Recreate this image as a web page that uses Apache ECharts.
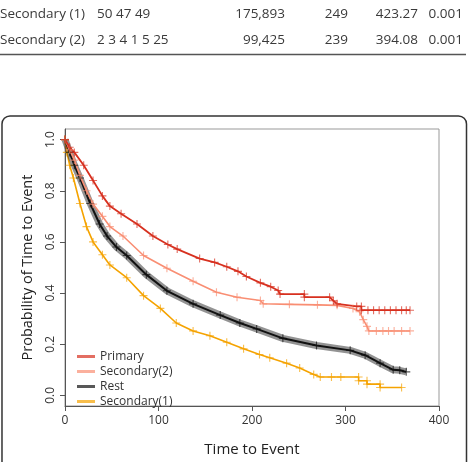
<!DOCTYPE html>
<html>
<head>
<meta charset="utf-8">
<script src="https://cdn.jsdelivr.net/npm/echarts@6/dist/echarts.min.js"></script>
<style>
  html, body { margin: 0; padding: 0; background: #fff; }
  #chart { width: 469px; height: 462px; }
</style>
</head>
<body>
<div id="chart"></div>
<script>
// table rows above the figure
let tableRows = [
  ['Secondary (1)', '50 47 49', '175,893', '249', '423.27', '0.001'],
  ['Secondary (2)', '2 3 4 1 5 25', '99,425', '239', '394.08', '0.001']
];

let seriesNames = ['Primary', 'Secondary(2)', 'Rest', 'Secondary(1)'];

let primaryTime = [0, 5, 10, 20, 30, 40, 48, 60, 77, 94, 110, 120, 144, 160, 173, 185, 194, 209, 220, 228, 230, 256, 256, 283, 287, 291, 312, 317, 317, 324, 330, 336, 342, 348, 354, 360, 365, 369];
let primarySurv = [1, 0.97, 0.95, 0.9, 0.84, 0.78, 0.74, 0.71, 0.67, 0.623, 0.59, 0.572, 0.535, 0.52, 0.503, 0.485, 0.465, 0.44, 0.425, 0.41, 0.396, 0.396, 0.384, 0.384, 0.37, 0.358, 0.348, 0.348, 0.333, 0.333, 0.333, 0.333, 0.333, 0.333, 0.333, 0.333, 0.333, 0.333];

let secondary2Time = [0, 5, 10, 16, 23, 30, 40, 48, 62, 84, 109, 137, 162, 184, 209, 212, 240, 270, 291, 308, 315, 319, 323, 325, 333, 340, 346, 352, 360, 369];
let secondary2Surv = [1, 0.96, 0.92, 0.86, 0.8, 0.748, 0.7, 0.66, 0.623, 0.547, 0.497, 0.446, 0.403, 0.384, 0.371, 0.358, 0.356, 0.354, 0.352, 0.34, 0.327, 0.296, 0.27, 0.252, 0.252, 0.252, 0.252, 0.252, 0.252, 0.252];

let restTime = [0, 5, 10, 16, 27, 37, 45, 55, 66, 87, 109, 137, 166, 187, 205, 233, 269, 305, 321, 337, 351, 358, 365];
let restSurv = [1, 0.95, 0.9, 0.85, 0.75, 0.67, 0.623, 0.58, 0.547, 0.472, 0.409, 0.358, 0.314, 0.283, 0.26, 0.223, 0.195, 0.176, 0.157, 0.126, 0.1, 0.098, 0.092];

let secondary1Time = [0, 2, 5, 9, 16, 23, 30, 40, 48, 66, 84, 102, 119, 137, 155, 173, 191, 208, 219, 237, 251, 266, 273, 285, 295, 314, 314, 323, 323, 337, 337, 360];
let secondary1Surv = [1, 0.95, 0.9, 0.85, 0.75, 0.66, 0.6, 0.55, 0.51, 0.46, 0.39, 0.34, 0.283, 0.252, 0.233, 0.208, 0.182, 0.16, 0.147, 0.126, 0.107, 0.082, 0.072, 0.072, 0.072, 0.072, 0.057, 0.057, 0.044, 0.044, 0.031, 0.031];

let xTicks = [0, 100, 200, 300, 400];
let yTicks = [0, 0.2, 0.4, 0.6, 0.8, 1.0];

let colors = {
  'Primary': '#d7301f',
  'Secondary(2)': '#f98e73',
  'Rest': '#111111',
  'Secondary(1)': '#f5a300'
};

let font = '"Open Sans", "Noto Sans", sans-serif';
let plusSymbol = 'path://M4.3,0H5.7V4.3H10V5.7H5.7V10H4.3V5.7H0V4.3H4.3Z';

function pairs(times, surv) {
  return times.map((t, i) => [t, surv[i]]);
}

function kmSeries(name, times, surv, width) {
  return {
    name: name,
    type: 'line',
    data: pairs(times, surv),
    showSymbol: true,
    symbol: plusSymbol,
    symbolSize: 8,
    itemStyle: { color: colors[name], opacity: 0.7 },
    lineStyle: { color: colors[name], width: width },
    silent: true
  };
}

// table text as graphic elements
let graphics = [];
let colX = [0, 97, 285, 348, 418, 463];
let colAlign = ['left', 'left', 'right', 'right', 'right', 'right'];
tableRows.forEach((row, r) => {
  row.forEach((cell, c) => {
    graphics.push({
      type: 'text',
      x: colX[c],
      y: 14 + r * 26,
      style: {
        text: cell,
        font: '13.5px ' + font,
        fill: '#3a3a3a',
        align: colAlign[c],
        verticalAlign: 'middle'
      }
    });
  });
});
graphics.push({
  type: 'line',
  shape: { x1: 0, y1: 54.5, x2: 466, y2: 54.5 },
  style: { stroke: '#555', lineWidth: 1.5 }
});
graphics.push({
  type: 'rect',
  shape: { x: 2, y: 116, width: 464.5, height: 380, r: 8 },
  style: { fill: 'none', stroke: '#333', lineWidth: 1.5 },
  z: -1
});

let chart = echarts.init(document.getElementById('chart'), null, { renderer: 'canvas' });

let option = {
  animation: false,
  textStyle: { fontFamily: font },
  graphic: graphics,
  grid: {
    left: 65,
    right: 30,
    top: 129,
    bottom: 46,
    show: true,
    borderColor: '#999',
    borderWidth: 1
  },
  legend: {
    data: seriesNames,
    orient: 'vertical',
    left: 72,
    top: 344,
    icon: 'rect',
    itemWidth: 18,
    itemHeight: 3,
    itemGap: 0,
    textStyle: { fontSize: 12, color: '#333', lineHeight: 15, fontFamily: font }
  },
  xAxis: {
    type: 'value',
    min: 0,
    max: 400,
    interval: 100,
    name: 'Time to Event',
    nameLocation: 'middle',
    nameGap: 36,
    nameTextStyle: { fontSize: 15, color: '#222', fontFamily: font },
    axisLine: { onZero: false, lineStyle: { color: '#555' } },
    axisTick: { length: 5, lineStyle: { color: '#555' } },
    axisLabel: {
      fontSize: 12,
      color: '#333',
      margin: 9,
      customValues: xTicks
    },
    splitLine: { show: false }
  },
  yAxis: {
    type: 'value',
    min: -0.0415,
    max: 1.0415,
    name: 'Probability of Time to Event',
    nameLocation: 'middle',
    nameGap: 30,
    nameTextStyle: { fontSize: 14.5, color: '#222', fontFamily: font },
    axisLine: { show: true, lineStyle: { color: '#555' } },
    axisTick: { show: true, length: 5, lineStyle: { color: '#555' }, customValues: yTicks },
    axisLabel: {
      fontSize: 12,
      color: '#333',
      margin: 8,
      rotate: 90,
      customValues: yTicks,
      formatter: (v) => v.toFixed(1)
    },
    splitLine: { show: false }
  },
  series: [
    kmSeries('Secondary(1)', secondary1Time, secondary1Surv, 1.6),
    {
      // dense censor marks make the Rest curve look like a thick band
      name: 'Rest band',
      type: 'line',
      data: pairs(restTime, restSurv),
      showSymbol: false,
      lineStyle: { color: 'rgba(40,40,40,0.5)', width: 7 },
      silent: true
    },
    kmSeries('Rest', restTime, restSurv, 2),
    kmSeries('Secondary(2)', secondary2Time, secondary2Surv, 1.6),
    kmSeries('Primary', primaryTime, primarySurv, 1.8)
  ]
};

chart.setOption(option);
</script>
</body>
</html>
